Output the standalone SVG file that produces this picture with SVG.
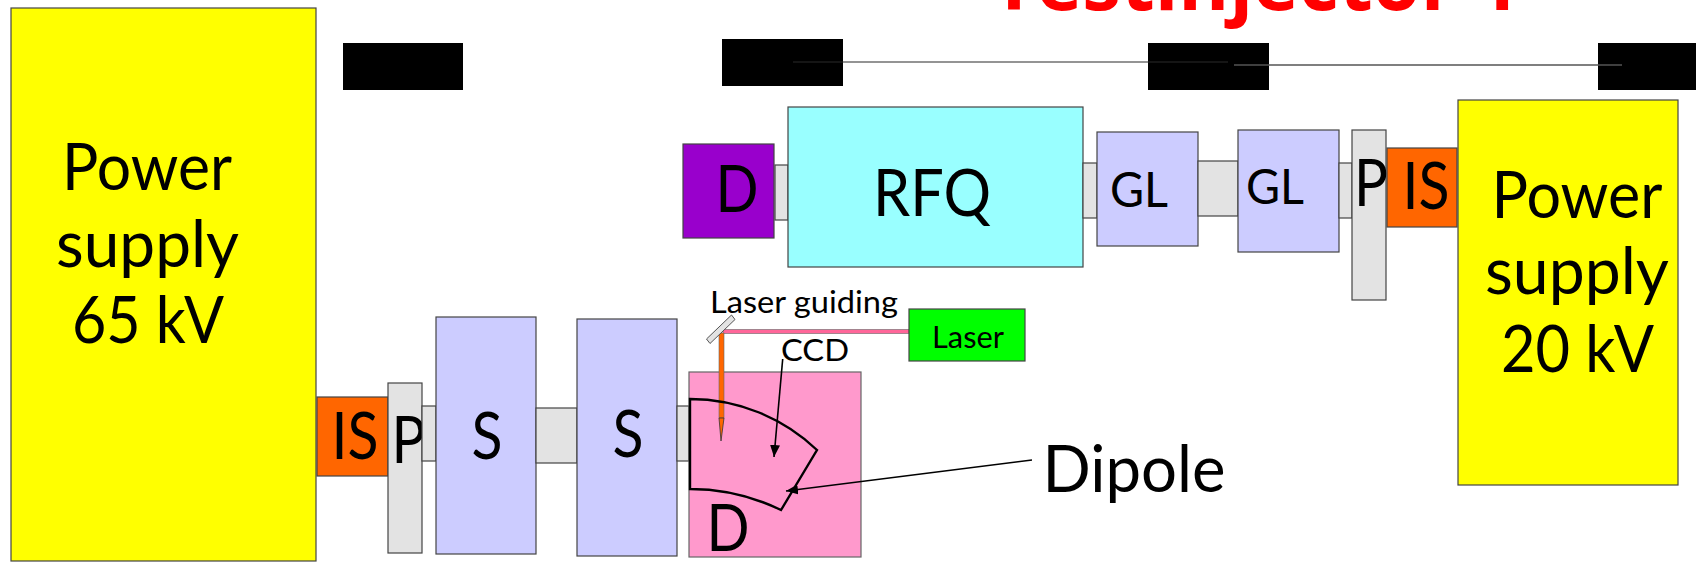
<svg xmlns="http://www.w3.org/2000/svg" width="1696" height="579" viewBox="0 0 1696 579">
<defs>
<marker id="ah" markerUnits="userSpaceOnUse" markerWidth="13" markerHeight="11" refX="12" refY="5" orient="auto"><path d="M0 0L12 5L0 10Z" fill="#000"/></marker>
</defs>
<style>
text{font-family:Lato,"Noto Sans","Liberation Sans",sans-serif;fill:#000;text-anchor:middle;font-size:65px}
.b{stroke:#444;stroke-width:1.2}
.y{fill:#ff0}.l{fill:#ccf}.g{fill:#e3e3e3}.o{fill:#f60}
.blk{fill:#000}
.s{font-size:31px}.gl{font-size:48px}
</style>
<text x="1256" y="10" textLength="529" lengthAdjust="spacingAndGlyphs" style="font-size:78px;font-weight:700;fill:#f00;font-family:'Open Sans','Noto Sans',sans-serif">Testinjector 1</text>
<g id="black-blocks"><rect class="blk" x="343" y="43" width="120" height="47"/><rect class="blk" x="722" y="39" width="121" height="47"/><rect class="blk" x="1148" y="43" width="121" height="47"/><rect class="blk" x="1598" y="43" width="98" height="47"/></g>
<g id="connectors" fill="none">
<path d="M793 62H1228" stroke="#2a2a2a" stroke-width="1.2"/><path d="M1234 65H1622" stroke="#555" stroke-width="1.5"/>
</g>
<g id="ps65"><rect class="b y" x="11" y="8" width="305" height="553"/><text x="147" y="190" textLength="170" lengthAdjust="spacingAndGlyphs">Power</text><text x="147.500" y="266.500" textLength="183" lengthAdjust="spacingAndGlyphs">supply</text><text x="148" y="342.500" textLength="152" lengthAdjust="spacingAndGlyphs">65 kV</text></g>
<g id="is1"><rect class="b o" x="317" y="397" width="71" height="79"/><text x="355" y="459" textLength="47" lengthAdjust="spacingAndGlyphs">IS</text></g>
<g id="p1"><rect class="b g" x="388" y="383" width="34" height="170"/><text x="408.500" y="463" textLength="34" lengthAdjust="spacingAndGlyphs">P</text></g>
<rect id="c1" class="b g" x="422" y="406" width="14" height="55"/>
<g id="s1"><rect class="b l" x="436" y="317" width="100" height="237"/><text x="487" y="459" textLength="31" lengthAdjust="spacingAndGlyphs">S</text></g>
<rect id="c2" class="b g" x="536" y="408" width="41" height="55"/>
<g id="s2"><rect class="b l" x="577" y="319" width="100" height="237"/><text x="628" y="457" textLength="31" lengthAdjust="spacingAndGlyphs">S</text></g>
<rect id="c3" class="b g" x="677" y="406" width="12" height="55"/>
<g id="d1"><rect x="689" y="372" width="172" height="185" fill="#f9c" stroke="#666" stroke-width="1.2"/><text x="728" y="551" textLength="43" lengthAdjust="spacingAndGlyphs">D</text></g>
<g id="laser-path"><rect x="723" y="329.500" width="186" height="4" fill="#f69" stroke="#666" stroke-width=".6"/><rect x="719" y="333" width="5" height="85" fill="#f60" stroke="#666" stroke-width=".6"/><path d="M719 418H724L721 441Z" fill="#f60" stroke="#333" stroke-width=".8"/><path d="M706.500 339L731.500 315L735 319.500L710 343.500Z" fill="#e3e3e3" stroke="#555"/></g>
<g id="dipole"><path d="M690 399A184 184 0 0 1 817 450L781 510A208 208 0 0 0 690 489Z" fill="none" stroke="#000" stroke-width="2.4"/></g>
<g id="laser"><rect class="b" x="909" y="309" width="116" height="52" fill="#0f0"/><text class="s" x="968" y="348" textLength="72" lengthAdjust="spacingAndGlyphs">Laser</text></g>
<text class="s" x="804" y="313" textLength="188" lengthAdjust="spacingAndGlyphs">Laser guiding</text>
<text class="s" x="815" y="361" textLength="68" lengthAdjust="spacingAndGlyphs">CCD</text>
<g id="arrows" fill="none" stroke="#000" stroke-width="1.6"><path d="M782.700 359L774 457" marker-end="url(#ah)"/><path d="M1032 460L786 491" marker-end="url(#ah)"/></g>
<text x="1134" y="492" textLength="183" lengthAdjust="spacingAndGlyphs">Dipole</text>
<g id="d2"><rect class="b" x="683" y="144" width="91" height="94" fill="#90c"/><text x="737" y="212" textLength="43" lengthAdjust="spacingAndGlyphs">D</text></g>
<rect id="c4" class="b g" x="775" y="165" width="13" height="55"/>
<g id="rfq"><rect class="b" x="788" y="107" width="295" height="160" fill="#9ff"/><text x="932" y="216" textLength="118" lengthAdjust="spacingAndGlyphs">RFQ</text></g>
<rect id="c5" class="b g" x="1083" y="163" width="14" height="55"/>
<g id="gl1"><rect class="b l" x="1097" y="132" width="101" height="114"/><text class="gl" x="1139" y="207" textLength="58" lengthAdjust="spacingAndGlyphs">GL</text></g>
<rect id="c6" class="b g" x="1198" y="161" width="40" height="55"/>
<g id="gl2"><rect class="b l" x="1238" y="130" width="101" height="122"/><text class="gl" x="1275" y="204" textLength="58" lengthAdjust="spacingAndGlyphs">GL</text></g>
<rect id="c7" class="b g" x="1339" y="163" width="13" height="55"/>
<g id="p2"><rect class="b g" x="1352" y="130" width="34" height="170"/><text x="1371" y="206" textLength="34" lengthAdjust="spacingAndGlyphs">P</text></g>
<g id="is2"><rect class="b o" x="1387" y="148" width="70" height="79"/><text x="1426" y="209" textLength="47" lengthAdjust="spacingAndGlyphs">IS</text></g>
<g id="ps20"><rect class="b y" x="1458" y="100" width="220" height="385"/><text x="1577" y="218" textLength="171" lengthAdjust="spacingAndGlyphs">Power</text><text x="1577" y="294" textLength="184" lengthAdjust="spacingAndGlyphs">supply</text><text x="1577.500" y="372" textLength="153" lengthAdjust="spacingAndGlyphs">20 kV</text></g>
</svg>
